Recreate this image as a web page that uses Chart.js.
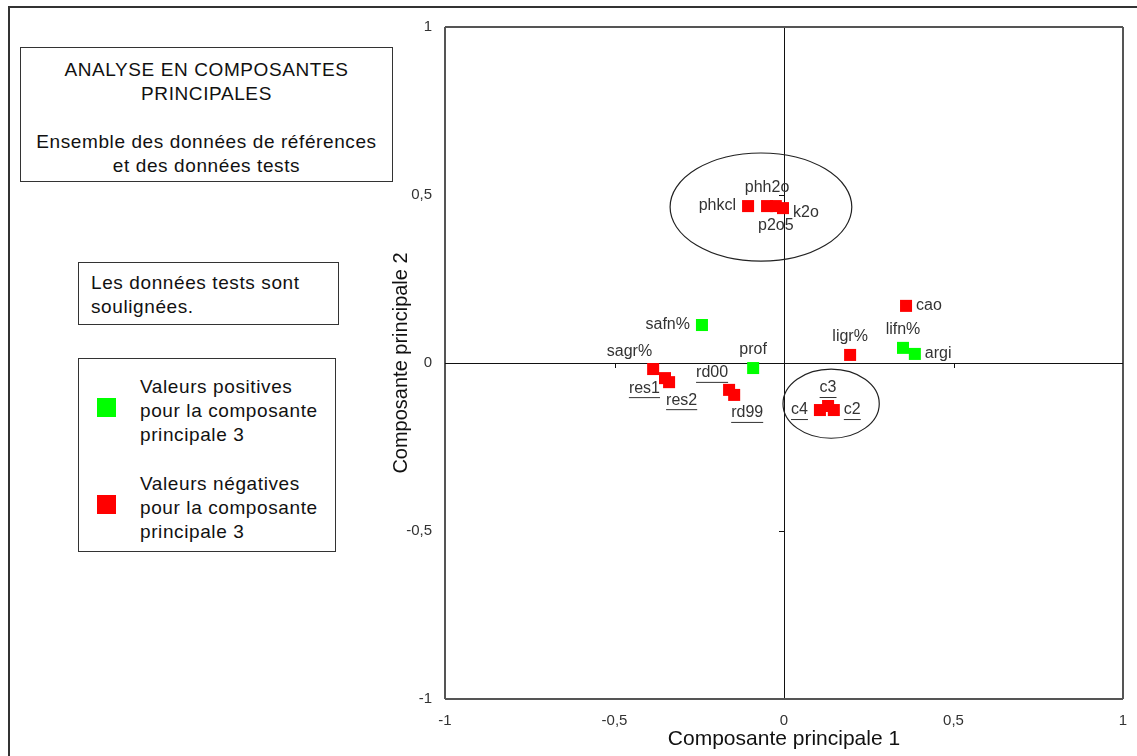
<!DOCTYPE html>
<html>
<head>
<meta charset="utf-8">
<script src="https://cdn.jsdelivr.net/npm/chart.js@4"></script>
<style>
  body { margin: 0; background: #fff; font-family: "Liberation Sans", Arial, sans-serif; }
  #wrap { position: relative; width: 1137px; height: 756px; overflow: hidden; }
  #frame { position: absolute; left: 8px; top: 6px; width: 1200px; height: 800px; border: 2px solid #333; }
  .box { position: absolute; border: 1.5px solid #333; background: #fff; color: #111; font-size: 19px; letter-spacing: 0.6px; line-height: 24px; }
  .sq { position: absolute; width: 19px; height: 19px; }
  canvas { position: absolute; left: 0; top: 0; }
</style>
</head>
<body>
<div id="wrap">
  <div id="frame"></div>
  <canvas id="acp" width="1137" height="756"></canvas>
  <div class="box" style="left:20px;top:47px;width:371px;height:133px;text-align:center;">
    <div style="margin-top:10px">ANALYSE EN COMPOSANTES<br>PRINCIPALES</div>
    <div style="margin-top:24px">Ensemble des données de références<br>et des données tests</div>
  </div>
  <div class="box" style="left:78px;top:262px;width:259px;height:61px;">
    <div style="margin:8px 0 0 12px">Les données tests sont<br>soulignées.</div>
  </div>
  <div class="box" style="left:78px;top:358px;width:256px;height:192px;">
    <div class="sq" style="left:18px;top:39px;background:#00ff00"></div>
    <div style="position:absolute;left:61px;top:16px">Valeurs positives<br>pour la composante<br>principale 3</div>
    <div class="sq" style="left:18px;top:136px;background:#ff0000"></div>
    <div style="position:absolute;left:61px;top:113px">Valeurs négatives<br>pour la composante<br>principale 3</div>
  </div>
</div>
<script>
const names = ["phkcl", "phh2o", "p2o5", "k2o", "safn%", "sagr%", "res1", "res2", "rd00", "rd99",
               "prof", "cao", "ligr%", "lifn%", "argi", "c3", "c4", "c2"];
const pc1 = [-0.106, -0.050, -0.024, -0.003, -0.242, -0.386, -0.351, -0.339, -0.162, -0.147,
             -0.091, 0.360, 0.195, 0.351, 0.386, 0.130, 0.106, 0.147];
const pc2 = [0.467, 0.467, 0.467, 0.461, 0.113, -0.018, -0.045, -0.057, -0.080, -0.095,
             -0.015, 0.170, 0.024, 0.045, 0.027, -0.128, -0.140, -0.140];
// signe de la composante principale 3
const pc3Positive = [false, false, false, false, true, false, false, false, false, false,
                     true, false, false, true, true, false, false, false];
// données tests (soulignées)
const isTest = [false, false, false, false, false, false, true, true, true, true,
                false, false, false, false, false, true, true, true];
const labelSide = {"phkcl":"L","phh2o":"T","p2o5":"B","k2o":"R","safn%":"L","sagr%":"TL",
  "res1":"BL","res2":"BR","rd00":"TL","rd99":"BR","prof":"T","cao":"R","ligr%":"T",
  "lifn%":"T","argi":"R","c3":"T","c4":"L","c2":"R"};
const xTicks = [-1, -0.5, 0, 0.5, 1];
const yTicks = [-1, -0.5, 0, 0.5, 1];
// cercles de regroupement: centre x, centre y, rayon x, rayon y (unités des axes)
const groups = [[-0.068, 0.464, 0.268, 0.161], [0.139, -0.121, 0.142, 0.103]];

function pts(pos) {
  const out = [];
  names.forEach((n, i) => { if (pc3Positive[i] === pos) out.push({x: pc1[i], y: pc2[i], name: n, test: isTest[i]}); });
  return out;
}

const fmt = v => String(v).replace('.', ',');
const lineColor = ctx => {
  const v = ctx.tick.value;
  if (v === 0) return '#111';
  if (v === -1 || v === 1) return '#555';
  return 'rgba(0,0,0,0)';
};
const FONT = '"Liberation Sans", Arial, sans-serif';

const extras = {
  id: 'extras',
  afterDatasetsDraw(chart) {
    const c = chart.ctx, xs = chart.scales.x, ys = chart.scales.y;
    c.save();
    // petites graduations sur les axes zéro
    c.strokeStyle = '#111'; c.lineWidth = 1;
    const x0 = xs.getPixelForValue(0), y0 = ys.getPixelForValue(0);
    [-0.5, 0.5].forEach(v => {
      const px = Math.round(xs.getPixelForValue(v)) + 0.5;
      c.beginPath(); c.moveTo(px, y0); c.lineTo(px, y0 + 5); c.stroke();
      const py = Math.round(ys.getPixelForValue(v)) + 0.5;
      c.beginPath(); c.moveTo(x0 - 5, py); c.lineTo(x0, py); c.stroke();
    });
    // ellipses
    c.strokeStyle = '#222'; c.lineWidth = 1.2;
    groups.forEach(g => {
      const cx = xs.getPixelForValue(g[0]), cy = ys.getPixelForValue(g[1]);
      const rx = Math.abs(xs.getPixelForValue(g[0] + g[2]) - cx);
      const ry = Math.abs(ys.getPixelForValue(g[1] + g[3]) - cy);
      c.beginPath(); c.ellipse(cx, cy, rx, ry, 0, 0, Math.PI * 2); c.stroke();
    });
    // étiquettes
    c.font = '16px ' + FONT;
    c.fillStyle = '#333';
    c.textBaseline = 'middle';
    chart.data.datasets.forEach(ds => ds.data.forEach(p => {
      const px = xs.getPixelForValue(p.x), py = ys.getPixelForValue(p.y);
      const side = labelSide[p.name];
      const w = c.measureText(p.name).width;
      let tx = px - w / 2, ty = py;
      if (side === 'L') tx = px - 12 - w;
      if (side === 'R') tx = px + 10;
      if (side === 'T') ty = py - 18;
      if (side === 'B') ty = py + 20;
      if (side === 'TL') { tx = px - w - 1; ty = py - 17; }
      if (side === 'BL') { tx = px - w - 5; ty = py + 10; }
      if (side === 'BR') { tx = px - 3; ty = py + 18; }
      if (side === 'R' && p.name === 'k2o') ty = py + 4;
      c.fillText(p.name, tx, ty);
      if (p.test) {
        c.fillRect(tx, ty + 9, w, 1);
      }
    }));
    c.restore();
  }
};

new Chart(document.getElementById('acp'), {
  type: 'scatter',
  data: {
    datasets: [
      { label: 'Valeurs positives', data: pts(true), backgroundColor: '#00ff00', borderWidth: 0,
        pointStyle: 'rect', pointRadius: 8.5, pointHoverRadius: 8.5 },
      { label: 'Valeurs négatives', data: pts(false), backgroundColor: '#ff0000', borderWidth: 0,
        pointStyle: 'rect', pointRadius: 8.5, pointHoverRadius: 8.5 }
    ]
  },
  plugins: [extras],
  options: {
    responsive: false,
    animation: false,
    events: [],
    layout: { padding: { left: 382, top: 27, right: 14, bottom: 0 } },
    plugins: { legend: { display: false }, tooltip: { enabled: false } },
    scales: {
      x: {
        type: 'linear', min: -1, max: 1,
        afterBuildTicks: s => { s.ticks = xTicks.map(v => ({value: v})); },
        afterFit: s => { s.height = 57; s.paddingLeft = 0; s.paddingRight = 0; },
        border: { display: false },
        grid: { color: lineColor, lineWidth: ctx => ctx.tick.value === 0 ? 1 : 2, drawTicks: false },
        ticks: { callback: fmt, color: '#333', padding: 13, maxRotation: 0,
                 font: { family: FONT, size: 15 } },
        title: { display: true, text: 'Composante principale 1', color: '#111', padding: { top: 0, bottom: 4 },
                 font: { family: FONT, size: 21 } }
      },
      y: {
        type: 'linear', min: -1, max: 1,
        afterBuildTicks: s => { s.ticks = yTicks.map(v => ({value: v})); },
        afterFit: s => { s.width = 445 - 382; },
        border: { display: false },
        grid: { color: lineColor, lineWidth: ctx => ctx.tick.value === 0 ? 1 : 2, drawTicks: false },
        ticks: { callback: fmt, color: '#333', padding: 13,
                 font: { family: FONT, size: 15 } },
        title: { display: true, text: 'Composante principale 2', color: '#111', padding: { top: 7, bottom: 0 },
                 font: { family: FONT, size: 20 } }
      }
    }
  }
});
</script>
</body>
</html>
